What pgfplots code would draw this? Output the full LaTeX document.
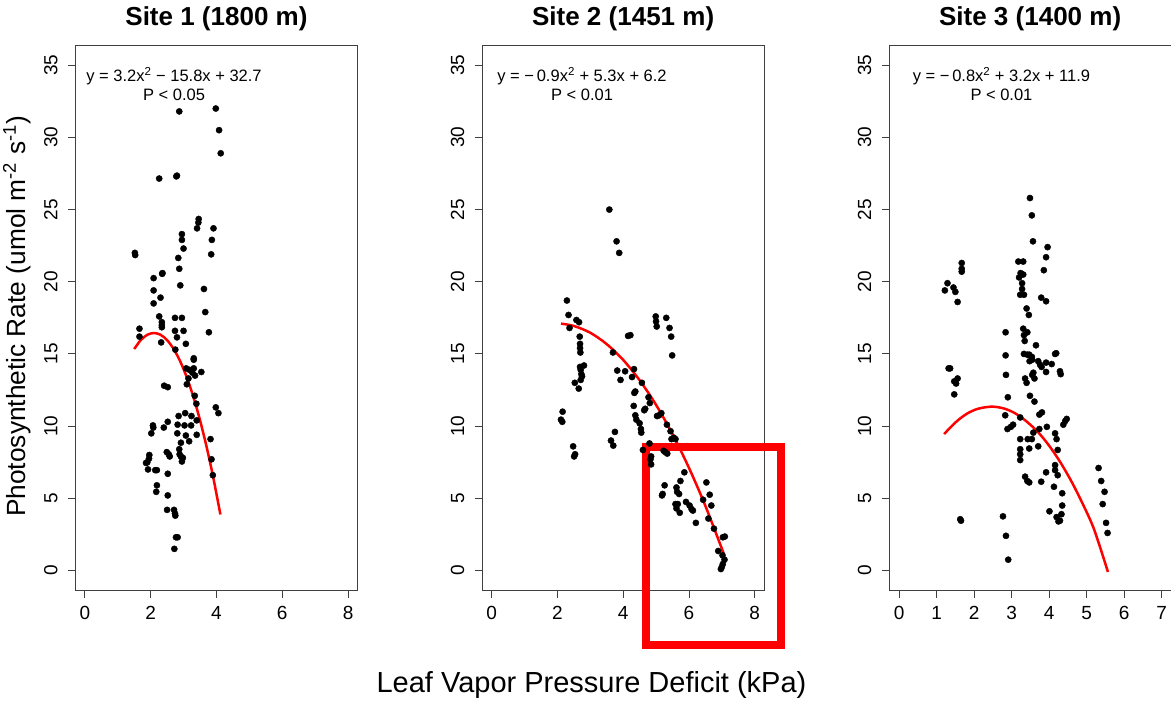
\documentclass[border=0pt]{standalone}
\usepackage{fontspec}
\setmainfont{Liberation Sans}
\usepackage{pgfplots}
\usepackage{pgfplotstable}
\pgfplotsset{compat=1.18}
\newcommand\fs[1]{\fontsize{#1pt}{#1pt}\selectfont}

\pgfplotstableread{
x y
2.87 31.8
3.98 32.0
4.08 30.5
4.13 28.9
2.26 27.15
2.78 27.3
2.80 27.35
3.46 24.35
3.45 24.1
3.41 23.7
3.91 23.7
2.95 23.3
2.95 22.9
3.86 22.9
3.00 22.3
1.52 22.0
1.53 21.85
2.84 21.65
3.84 21.9
2.87 20.9
2.36 20.6
2.35 20.55
2.09 20.25
2.90 19.75
2.09 19.4
3.62 19.5
2.30 18.9
2.09 18.5
3.66 17.9
2.26 17.6
2.74 17.5
2.95 17.5
2.34 17.2
2.34 17.0
2.34 16.85
1.66 16.75
1.66 16.2
2.74 16.6
3.00 16.6
2.80 16.15
3.77 16.5
2.32 15.8
3.07 15.7
2.75 15.3
3.31 14.7
3.31 14.6
3.08 14.0
3.18 13.9
3.31 14.0
3.27 13.7
3.35 13.5
3.15 13.3
3.54 13.75
3.10 12.9
2.41 12.8
2.52 12.7
3.34 12.1
3.39 11.55
3.98 11.3
4.06 10.9
2.85 10.7
3.05 10.9
3.24 10.7
3.40 10.4
2.52 10.3
2.07 10.05
2.08 9.9
2.02 9.5
2.40 9.9
2.82 10.1
3.03 10.05
3.23 10.05
2.81 9.5
3.07 9.35
3.40 9.4
3.17 8.95
3.82 9.1
2.92 8.85
2.49 8.2
2.55 8.05
2.58 7.9
2.87 8.4
2.88 8.05
2.92 7.9
2.98 7.8
2.95 7.55
1.96 8.0
1.95 7.75
1.90 7.5
1.86 7.45
1.92 7.0
2.14 6.95
2.19 6.95
3.85 7.7
3.89 6.6
2.52 6.7
2.19 5.9
2.17 5.45
2.52 5.2
2.50 4.2
2.71 4.2
2.74 3.95
2.75 3.8
2.77 2.3
2.82 2.3
2.72 1.5
}\siteone

\pgfplotstableread{
x y
1.50 15.34
1.70 15.96
1.90 16.33
2.10 16.45
2.30 16.33
2.50 15.96
2.70 15.34
2.90 14.48
3.10 13.37
3.30 12.02
3.50 10.41
3.70 8.57
3.90 6.47
4.12 3.88
}\fitone

\pgfplotstableread{
x y
3.58 25.0
3.80 22.8
3.88 22.0
2.29 18.7
2.34 17.7
2.37 16.8
2.58 17.35
2.66 17.2
2.68 16.2
2.69 15.7
2.69 15.4
2.70 15.1
3.69 15.1
4.15 16.25
4.22 16.3
4.99 17.6
5.00 17.25
5.02 16.9
5.31 17.5
5.41 16.8
5.46 16.2
5.49 14.9
2.69 14.1
2.81 14.2
2.71 13.9
2.73 13.6
2.75 13.45
2.71 13.2
2.53 13.0
2.65 12.6
3.82 13.85
4.06 13.8
3.92 13.2
4.33 13.95
4.27 13.4
4.57 13.0
4.37 12.4
4.34 12.3
4.77 12.0
4.81 11.6
4.32 11.4
4.67 11.2
4.64 11.1
4.37 10.75
4.40 10.45
4.50 10.2
4.54 9.8
4.55 9.55
5.03 10.7
5.09 10.75
5.16 10.9
5.33 10.1
5.44 9.65
5.54 9.2
5.59 9.1
5.47 9.1
2.16 11.0
2.11 10.45
2.15 10.3
2.48 8.6
2.51 7.9
2.54 8.05
3.63 9.0
3.70 8.65
3.75 9.6
4.80 8.8
4.60 8.35
4.85 7.9
4.83 7.7
4.85 7.35
5.23 8.3
5.34 8.1
5.28 8.2
5.26 5.9
5.20 5.3
5.18 5.2
5.74 6.2
5.86 6.8
5.62 5.75
5.64 5.45
5.70 5.3
5.59 4.6
5.66 4.6
5.62 4.3
5.72 4.0
5.91 4.75
6.02 4.5
6.08 4.25
6.12 4.15
6.21 3.3
6.53 6.1
6.63 5.25
6.43 4.9
6.68 4.5
6.59 3.6
6.76 2.9
7.03 2.3
7.09 2.35
6.89 1.35
7.02 1.05
7.08 0.75
7.03 0.45
7.00 0.25
6.97 0.1
}\sitetwo

\pgfplotstableread{
x y
2.11 17.10
2.50 16.94
3.00 16.47
3.50 15.68
4.00 14.59
4.50 13.18
5.00 11.47
5.50 9.45
6.00 7.11
6.50 4.47
7.06 1.15
}\fittwo

\pgfplotstableread{
x y
3.49 25.8
3.54 24.6
3.57 22.8
3.96 22.4
3.92 21.7
3.86 20.8
3.18 21.4
3.31 21.4
3.24 20.6
3.31 20.5
3.20 20.3
3.28 19.9
3.28 19.5
3.23 19.1
3.33 19.1
3.79 18.9
3.92 18.65
3.40 18.15
3.46 17.7
1.67 21.3
1.67 20.9
1.67 20.7
1.29 19.9
1.22 19.4
1.45 19.6
1.50 19.3
1.56 18.6
2.84 16.5
3.31 16.75
3.42 16.5
3.33 16.3
3.35 15.9
3.65 15.6
2.84 14.9
3.33 15.0
3.47 14.95
3.54 14.8
4.16 15.0
4.19 15.05
3.42 14.95
3.55 14.6
3.48 14.5
3.71 14.5
3.76 14.25
3.80 14.1
3.92 14.4
4.07 14.3
3.58 13.7
3.55 13.55
3.92 13.75
4.29 13.8
4.31 13.6
2.85 13.55
3.36 13.3
3.40 13.0
3.61 13.3
2.90 12.0
3.49 12.1
3.61 11.7
2.83 10.75
2.89 9.8
2.98 9.95
3.04 10.1
3.23 10.6
3.74 10.8
3.81 10.95
4.38 10.1
4.43 10.35
4.47 10.5
3.94 9.95
3.74 9.8
3.58 9.55
3.54 9.1
3.43 9.1
3.23 9.1
4.16 9.5
4.20 9.1
3.71 8.6
3.47 8.45
3.23 8.4
3.23 8.05
3.23 7.65
4.23 8.35
4.16 7.3
4.16 6.95
3.92 6.8
4.23 6.6
3.36 6.5
3.42 6.2
3.47 6.1
3.79 6.15
4.13 5.8
4.35 5.35
4.35 4.5
4.33 3.9
4.01 4.1
4.20 3.7
4.25 3.4
4.29 3.45
5.32 7.1
5.39 6.2
5.48 5.45
5.43 4.6
5.52 3.3
5.56 2.6
1.36 14.0
1.32 14.0
1.56 13.3
1.47 13.1
1.52 12.95
1.47 12.2
1.63 3.55
1.65 3.45
2.77 3.75
2.85 2.4
2.91 0.75
}\sitethree

\pgfplotstableread{
x y
1.20 9.45
1.50 10.25
1.80 10.85
2.10 11.20
2.47 11.35
2.80 11.22
3.10 10.88
3.40 10.32
3.70 9.60
4.00 8.65
4.30 7.50
4.60 6.15
4.90 4.60
5.20 2.85
5.57 -0.10
}\fitthree

\pgfplotsset{
  panel/.style={
    scale only axis, width=282.3pt, height=545.7pt,
    ymin=-1.4, ymax=36.4, ytick={0,5,...,35},
    tick pos=left,
    tick align=outside, major tick length=7.5pt,
    axis line style={draw=black!75, line width=0.9pt},
    tick style={draw=black!75, line width=0.9pt},
    /pgf/number format/assume math mode=true,
    tick label style={font=\fs{19}},
    yticklabel style={rotate=90, anchor=south, inner sep=0pt},
    xticklabel style={anchor=north, inner sep=0pt},
    xticklabel shift=8pt, yticklabel shift=10pt,
    title style={font=\bfseries\fs{26}, at={(0.5,1)}, anchor=base, yshift=14pt},
    clip=false,
  },
  pts/.style={only marks, mark=*, mark size=3.1pt, mark options={draw=black, fill=black}},
  fitline/.style={red, line width=2.5pt, no marks, smooth},
}
\tikzset{eq/.style={font=\fs{16.5}, anchor=base, inner sep=0pt}}

\begin{document}
\begin{tikzpicture}
\useasboundingbox (0,0) rectangle (1171pt,-704pt);

\begin{axis}[panel, at={(75.3pt,-590.7pt)}, anchor=south west,
  xmin=-0.29, xmax=8.29, xtick={0,2,4,6,8}, title={Site 1 (1800 m)}]
\addplot[pts] table {\siteone};
\addplot[fitline] table {\fitone};
\node[eq] at (axis cs:2.71,33.84) {y = 3.2x\textsuperscript{2} − 15.8x + 32.7};
\node[eq] at (axis cs:2.71,32.54) {P < 0.05};
\end{axis}

\begin{axis}[panel, at={(482pt,-590.7pt)}, anchor=south west,
  xmin=-0.29, xmax=8.29, xtick={0,2,4,6,8}, title={Site 2 (1451 m)}]
\addplot[pts] table {\sitetwo};
\addplot[fitline] table {\fittwo};
\node[eq] at (axis cs:2.75,33.84) {y = −\,0.9x\textsuperscript{2} + 5.3x + 6.2};
\node[eq] at (axis cs:2.75,32.54) {P < 0.01};
\draw[red, line width=8pt] (axis cs:4.70,8.55) rectangle (axis cs:8.80,-5.16);
\end{axis}

\begin{axis}[panel, at={(889pt,-590.7pt)}, anchor=south west,
  xmin=-0.27, xmax=7.26, xtick={0,1,...,7}, title={Site 3 (1400 m)}]
\addplot[pts] table {\sitethree};
\addplot[fitline] table {\fitthree};
\node[eq] at (axis cs:2.73,33.84) {y = −\,0.8x\textsuperscript{2} + 3.2x + 11.9};
\node[eq] at (axis cs:2.73,32.54) {P < 0.01};
\end{axis}

\node[font=\fs{29}, anchor=base] at (591.5pt,-692pt) {Leaf Vapor Pressure Deficit (kPa)};
\node[font=\fs{26.3}, rotate=90, anchor=base west, inner sep=0pt] at (25pt,-517pt) {Photosynthetic Rate (umol m\textsuperscript{-2} s\textsuperscript{-1})};
\end{tikzpicture}
\end{document}
